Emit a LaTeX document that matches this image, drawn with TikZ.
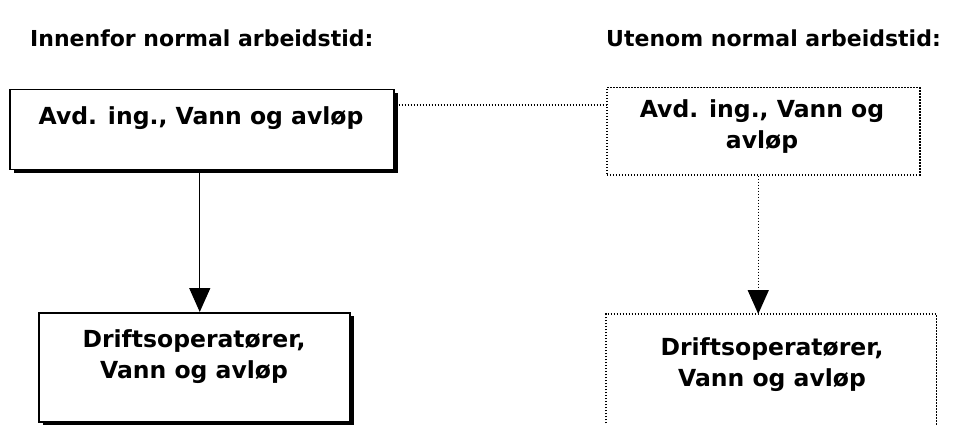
\documentclass[tikz,border=0pt]{standalone}
\usepackage{fontspec}
\setmainfont{DejaVu Sans}
\usetikzlibrary{arrows.meta,shadows}
\begin{document}
\begin{tikzpicture}[x=1pt,y=-1pt,
  hdr/.style={anchor=west,font=\fontsize{22}{27}\selectfont\bfseries,inner sep=0},
  txt/.style={font=\fontsize{23.5}{31}\selectfont\bfseries,align=center,inner sep=0},
  solidbox/.style={draw,line width=1.5pt,fill=white,inner sep=0,anchor=north west,
    drop shadow={shadow xshift=4pt,shadow yshift=-3pt,fill=black,opacity=1}},
  dotbox/.style={draw,line width=1.5pt,dash pattern=on 1.5pt off 1.5pt,inner sep=0,anchor=north west},
  plainbox/.style={inner sep=0,anchor=north west},
  dotline/.style={line width=1.5pt,dash pattern=on 1.5pt off 1.5pt},
  arr/.style={line width=1.3pt,-{Triangle[width=21pt,length=24pt]}},
  dotarr/.style={dotline,-{Triangle[width=21pt,length=24pt]}}
]
\useasboundingbox[fill=white] (0,0) rectangle (972,425);

\node[hdr] (h1) at (30,38) {Innenfor normal arbeidstid:};
\node[hdr] (h2) at (606,38) {Utenom normal arbeidstid:};

\node[solidbox,minimum width=384pt,minimum height=80pt] (boxA) at (9,89) {};
\node[txt] (tA) at (201,118) {Avd. ing., Vann og avløp};

\node[dotbox,minimum width=313pt,minimum height=87pt] (boxB) at (606,87) {};
\node[txt] (tB) at (762,127) {Avd. ing., Vann og\\avløp};

\node[solidbox,minimum width=311pt,minimum height=109pt] (boxC) at (38,312) {};
\node[txt] (tC) at (194,357) {Driftsoperatører,\\Vann og avløp};

\node[plainbox,minimum width=330pt,minimum height=115pt] (boxD) at (606,314) {};
\draw[dotline] (boxD.south west) -- (boxD.north west) -- (boxD.north east) -- (boxD.south east);
\node[txt] (tD) at (772,365) {Driftsoperatører,\\Vann og avløp};

\draw[dotline] ([shift={(4,16)}]boxA.north east) -- ([shift={(0,18)}]boxB.north west);
\draw[arr] ([shift={(-2,3)}]boxA.south) -- ([shift={(-2,0)}]boxA.south |- boxC.north);
\draw[dotarr] ([shift={(-5,0)}]boxB.south) -- ([shift={(-5,0)}]boxB.south |- boxD.north);
\end{tikzpicture}
\end{document}
